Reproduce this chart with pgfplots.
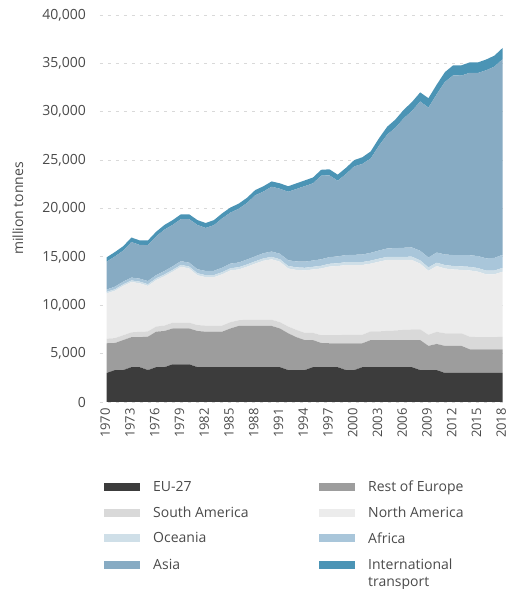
\documentclass[border=0pt]{standalone}
\usepackage{pgfplots}
\pgfplotsset{compat=1.18}
\usepackage{pgfplotstable}
\usepackage{fontspec}
\setmainfont{Open Sans}
\definecolor{ceu}{HTML}{3C3C3C}
\definecolor{croe}{HTML}{9D9D9D}
\definecolor{csa}{HTML}{D9D9D9}
\definecolor{cna}{HTML}{ECECEC}
\definecolor{coce}{HTML}{CFDFE8}
\definecolor{cafr}{HTML}{A9C6DA}
\definecolor{casia}{HTML}{87ABC3}
\definecolor{cintl}{HTML}{4B94B5}
\definecolor{tickgray}{HTML}{4A4A4A}
\pgfplotstableread{
year eu roe sa na oce afr asia intl
1970 3000 3070 480 4680 150 250 2870 450
1971 3300 2800 500 4900 155 265 3125 455
1972 3300 3100 500 5100 160 280 3200 460
1973 3600 3100 500 5200 165 295 3675 465
1974 3600 3100 550 5020 170 310 3480 470
1975 3300 3450 550 4700 175 325 3725 475
1976 3600 3670 530 4800 180 340 4000 480
1977 3600 3740 560 5100 185 355 4275 485
1978 3900 3700 600 5270 190 370 4280 490
1979 3900 3700 600 5780 195 385 4345 495
1980 3900 3700 600 5600 200 400 4500 500
1981 3600 3740 610 5150 205 415 4575 505
1982 3600 3670 630 5000 210 430 4450 510
1983 3600 3670 630 5000 215 445 4725 515
1984 3600 3670 630 5300 220 460 5100 520
1985 3600 4000 650 5350 225 475 5275 525
1986 3600 4260 590 5250 230 490 5550 530
1987 3600 4260 640 5480 235 505 5845 535
1988 3600 4260 640 5800 240 520 6300 540
1989 3600 4260 640 6100 245 535 6375 545
1990 3600 4260 640 6250 250 550 6700 550
1991 3600 4000 650 6250 255 570 6715 560
1992 3300 3800 700 6000 260 590 7080 570
1993 3300 3400 750 6200 265 610 7495 580
1994 3300 3100 750 6450 270 630 7810 590
1995 3600 2800 750 6550 275 650 7975 600
1996 3600 2500 800 6900 280 670 8640 610
1997 3600 2470 830 7100 285 690 8455 620
1998 3600 2470 830 7150 290 710 7820 630
1999 3300 2770 880 7210 295 730 8375 640
2000 3300 2770 880 7210 300 750 9140 650
2001 3600 2470 880 7210 305 780 9365 690
2002 3600 2800 900 7000 310 810 9750 730
2003 3600 2800 900 7200 315 840 10825 770
2004 3600 2800 950 7330 320 870 11770 810
2005 3600 2800 1000 7280 325 900 12445 850
2006 3600 2800 1050 7230 330 930 13380 880
2007 3600 2800 1100 7180 335 960 14115 910
2008 3300 3100 1100 6800 340 990 15430 940
2009 3300 2500 1150 6620 345 1020 15495 970
2010 3300 2700 1250 6800 350 1050 16350 1000
2011 3000 2800 1300 6700 355 1090 17835 1020
2012 3000 2800 1300 6600 360 1130 18570 1040
2013 3000 2800 1300 6550 365 1160 18565 1060
2014 3000 2450 1300 6850 370 1200 18850 1080
2015 3000 2450 1250 6770 375 1240 18925 1090
2016 3000 2450 1250 6500 380 1270 19440 1110
2017 3000 2450 1250 6500 385 1310 19775 1130
2018 3000 2450 1300 6720 400 1350 20230 1150
}\data
\begin{document}
\begin{tikzpicture}[font=\fontsize{14}{17}\selectfont]
\useasboundingbox (0,0) rectangle (508pt,589pt);
\begin{axis}[
  at={(100pt,187pt)}, anchor=south west,
  scale only axis, width=405pt, height=387pt,
  xmin=1969.19, xmax=2018.28, ymin=0, ymax=40000,
  stack plots=y,
  axis line style={draw=none},
  tick style={draw=none},
  xtick={1970,1973,...,2018},
  ytick={0,5000,...,40000},
  scaled y ticks=false,
  /pgf/number format/assume math mode=true,
  xticklabel={\pgfmathprintnumber[1000 sep={}]{\tick}},
  yticklabel={\pgfmathprintnumber[1000 sep={,}]{\tick}},
  ymajorgrids,
  grid style={color=black!15, line width=0.8pt, dash pattern=on 3pt off 5pt},
  xticklabel style={xshift=-1.5pt, rotate=90, anchor=east, inner sep=0pt, text=tickgray, font=\fontsize{13}{15}\selectfont},
  yticklabel style={anchor=east, inner sep=0pt, text=tickgray},
  xticklabel shift=6pt, yticklabel shift=14pt,
  ylabel={million tonnes},
  every axis y label/.style={at={(axis description cs:-0.2025,0.5)}, rotate=90, anchor=center, text=tickgray},
  legend columns=2,
  legend cell align=left,
  legend style={at={(axis description cs:0.0099,-0.1985)}, anchor=north west, draw=none, fill=none, inner sep=0pt, column sep=11pt, row sep=9.5pt, text=tickgray},
  legend image code/.code={\path[#1,draw=none] (0pt,-4pt) rectangle (36pt,4pt);},
]
\addplot[fill=ceu, draw=none] table[x=year,y=eu]{\data} \closedcycle;
\addlegendentry{\makebox[153pt][l]{EU-27}}
\addplot[fill=croe, draw=none] table[x=year,y=roe]{\data} \closedcycle;
\addlegendentry{Rest of Europe}
\addplot[fill=csa, draw=none] table[x=year,y=sa]{\data} \closedcycle;
\addlegendentry{\makebox[153pt][l]{South America}}
\addplot[fill=cna, draw=none] table[x=year,y=na]{\data} \closedcycle;
\addlegendentry{North America}
\addplot[fill=coce, draw=none] table[x=year,y=oce]{\data} \closedcycle;
\addlegendentry{\makebox[153pt][l]{Oceania}}
\addplot[fill=cafr, draw=none] table[x=year,y=afr]{\data} \closedcycle;
\addlegendentry{Africa}
\addplot[fill=casia, draw=none] table[x=year,y=asia]{\data} \closedcycle;
\addlegendentry{\makebox[153pt][l]{Asia}}
\addplot[fill=cintl, draw=none] table[x=year,y=intl]{\data} \closedcycle;
\addlegendentry{\begin{tabular}[t]{@{}l@{}}International\\transport\end{tabular}}
\end{axis}
\end{tikzpicture}
\end{document}
